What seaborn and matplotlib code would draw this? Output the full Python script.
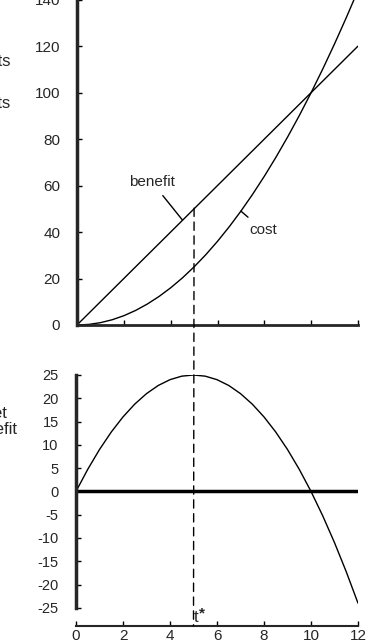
import numpy as np
import matplotlib
matplotlib.use("Agg")
from matplotlib import pyplot as plt
from matplotlib.patches import ConnectionPatch
import seaborn as sns

# values, every half unit of time
t = [0, 0.5, 1, 1.5, 2, 2.5, 3, 3.5, 4, 4.5, 5, 5.5, 6, 6.5, 7, 7.5, 8, 8.5, 9,
     9.5, 10, 10.5, 11, 11.5, 12]
benefit = [0, 5, 10, 15, 20, 25, 30, 35, 40, 45, 50, 55, 60, 65, 70, 75, 80, 85,
           90, 95, 100, 105, 110, 115, 120]
cost = [0, 0.25, 1, 2.25, 4, 6.25, 9, 12.25, 16, 20.25, 25, 30.25, 36, 42.25, 49,
        56.25, 64, 72.25, 81, 90.25, 100, 110.25, 121, 132.25, 144]
net_benefit = [0, 4.75, 9, 12.75, 16, 18.75, 21, 22.75, 24, 24.75, 25, 24.75, 24,
               22.75, 21, 18.75, 16, 12.75, 9, 4.75, 0, -5.25, -11, -17.25, -24]

t_star = 5
top_yticks = [0, 20, 40, 60, 80, 100, 120, 140]
bottom_yticks = [-25, -20, -15, -10, -5, 0, 5, 10, 15, 20, 25]
xticks = [0, 2, 4, 6, 8, 10, 12]

sns.set_style("ticks")
plt.rcParams['font.family'] = ['Liberation Sans', 'DejaVu Sans']
plt.rcParams['axes.unicode_minus'] = False

W, H = 372, 644
fig = plt.figure(figsize=(W / 100, H / 100), dpi=100)


def px_box(left, bottom, right, top):
    return [left / W, (H - bottom) / H, (right - left) / W, (bottom - top) / H]


# Top panel: costs and benefits
ax1 = fig.add_axes(px_box(77, 325, 358, -12))
sns.lineplot(x=t, y=benefit, ax=ax1, color='black', lw=1.0, estimator=None)
sns.lineplot(x=t, y=cost, ax=ax1, color='black', lw=1.0, estimator=None)
ax1.set_xlim(0, 12)
ax1.set_ylim(0, 145)
ax1.set_yticks(top_yticks)
ax1.set_xticks(xticks[1:])
ax1.set_xticklabels([])
ax1.spines['top'].set_visible(False)
ax1.spines['right'].set_visible(False)
ax1.spines['left'].set_linewidth(2.5)
ax1.spines['bottom'].set_linewidth(2.0)
ax1.tick_params(axis='y', direction='in', length=3.5, width=1, pad=12,
                labelsize=11, color='black')
ax1.tick_params(axis='x', direction='in', length=3.5, width=1, color='black')

ax1.annotate('benefit', xy=(4.5, 45.2), xytext=(3.2, 61.5), ha='center', va='center',
             fontsize=11, arrowprops=dict(arrowstyle='-', color='black', lw=1,
                                          shrinkA=3, shrinkB=0))
ax1.annotate('cost', xy=(7.0, 49), xytext=(7.95, 40.8), ha='center', va='center',
             fontsize=11, arrowprops=dict(arrowstyle='-', color='black', lw=1,
                                          shrinkA=3, shrinkB=0))

# Bottom panel: net benefit
ax2 = fig.add_axes(px_box(76, 626, 358, 375))
sns.lineplot(x=t, y=net_benefit, ax=ax2, color='black', lw=1.0, estimator=None)
ax2.axhline(0, color='black', lw=2.5)
ax2.set_xlim(0, 12)
ax2.set_ylim(-28.9, 25)
ax2.set_yticks(bottom_yticks)
ax2.set_xticks(xticks)
ax2.spines['top'].set_visible(False)
ax2.spines['right'].set_visible(False)
ax2.spines['left'].set_bounds(-25, 25)
ax2.spines['left'].set_linewidth(2.5)
ax2.spines['bottom'].set_linewidth(1.5)
ax2.tick_params(axis='y', direction='in', length=3.5, width=1, pad=12.5,
                labelsize=10.5, color='black')
ax2.tick_params(axis='x', direction='in', length=3.5, width=1, pad=2,
                labelsize=11, color='black')

ax2.text(5.03, -28.0, 't', ha='left', va='baseline', fontsize=12)
ax2.text(5.25, -24.6, '*', ha='left', va='top', fontsize=11, fontweight='bold')

# dashed line at t* running from the benefit curve down to the lower axis
con = ConnectionPatch(xyA=(t_star, 50.3), coordsA=ax1.transData,
                      xyB=(t_star, -28.9), coordsB=ax2.transData,
                      color='black', lw=1.0, linestyle=(0, (6, 4)))
fig.add_artist(con)

# axis titles, cut off by the left edge of the scan
fig.text(10.5 / W, 1 - 62 / H, 'Costs', ha='right', va='center', fontsize=12)
fig.text(11 / W, 1 - 103 / H, 'benefits', ha='right', va='center', fontsize=12)
fig.text(7.5 / W, 1 - 413 / H, 'Net', ha='right', va='center', fontsize=12)
fig.text(17.5 / W, 1 - 430 / H, 'benefit', ha='right', va='center', fontsize=12)

fig.savefig('out.png', dpi=100)
